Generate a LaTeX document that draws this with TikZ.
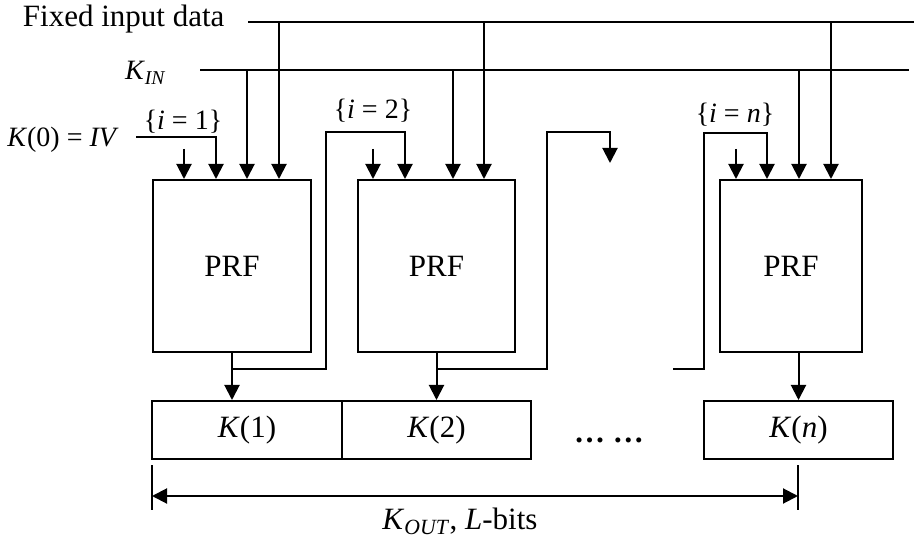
\documentclass[tikz,border=0pt]{standalone}
\usepackage{fontspec}
\setmainfont{Liberation Serif}
\usetikzlibrary{arrows.meta,calc}
\begin{document}
\begin{tikzpicture}[x=1pt,y=-1pt,line width=2pt,
  arr/.style={-{Triangle[length=15pt,width=15pt]}},
  dimarr/.style={{Triangle[length=15pt,width=15pt]}-{Triangle[length=15pt,width=15pt]}},
  prfbox/.style={draw,line width=2pt,inner sep=0pt,minimum height=172pt,font=\fontsize{31}{37}\selectfont},
  kbox/.style={draw,line width=2pt,inner sep=0pt,minimum height=58pt,minimum width=189pt,font=\fontsize{31}{37}\selectfont},
  lbl/.style={inner sep=0pt,font=\fontsize{31}{37}\selectfont},
  small/.style={inner sep=0pt,font=\fontsize{28}{34}\selectfont}]
\useasboundingbox (0,0) rectangle (914,548);

% PRF boxes
\node[prfbox,minimum width=158pt] (p1) at (232,266) {PRF};
\node[prfbox,minimum width=157pt] (p2) at (436.5,266) {PRF};
\node[prfbox,minimum width=142pt] (pn) at (791,266) {PRF};

% output key boxes
\node[kbox,minimum width=190pt] (k1) at (247,430) {\textit{K}(1)};
\node[kbox] (k2) at (436.5,430) {\textit{K}(2)};
\node[kbox] (kn) at (798.5,430) {\textit{K}(\textit{n})};
\node[lbl,anchor=base] (dots) at (609,442) {\textbf{… …}};

% labels
\node[lbl,anchor=base west] (fid) at (22,27) {Fixed input data};
\node[small,anchor=base west] (kin) at (124,80) {\textit{K}\textsubscript{\textit{IN}}};
\node[small] (iv) at (63,140) {\textit{K}(0) = \textit{IV}};
\node[small] (i1) at (183,122) {\{\textit{i} = 1\}};
\node[small] (i2) at (373,111) {\{\textit{i} = 2\}};
\node[small] (in) at (735,115) {\{\textit{i} = \textit{n}\}};
\node[lbl,anchor=base] (kout) at (460,529) {\textit{K}\textsubscript{\textit{OUT}}, \textit{L}-bits};

% bus lines
\coordinate (fL) at (248,22);
\coordinate (fR) at (914,22);
\coordinate (kL) at (200,70);
\coordinate (kR) at (909,70);
\draw (fL) -- (fR);
\draw (kL) -- (kR);

% bus taps
\coordinate (f1) at (279,22);
\coordinate (g1) at (247,70);
\coordinate (f2) at (484,22);
\coordinate (g2) at (453,70);
\coordinate (fn) at (831,22);
\coordinate (gn) at (799,70);
\draw[arr] (f1) -- (f1 |- p1.north);
\draw[arr] (g1) -- (g1 |- p1.north);
\draw[arr] (f2) -- (f2 |- p2.north);
\draw[arr] (g2) -- (g2 |- p2.north);
\draw[arr] (fn) -- (fn |- pn.north);
\draw[arr] (gn) -- (gn |- pn.north);

% short inputs
\coordinate (s1) at (184,149);
\coordinate (s2) at (373,149);
\coordinate (sn) at (736,149);
\draw[arr] (s1) -- (s1 |- p1.north);
\draw[arr] (s2) -- (s2 |- p2.north);
\draw[arr] (sn) -- (sn |- pn.north);

% K(0)=IV input
\coordinate (iv0) at (136,137);
\coordinate (iv1) at (216,137);
\draw[arr] (iv0) -- (iv1) -- (iv1 |- p1.north);

% outputs
\draw[arr] (p1.south) -- (p1.south |- k1.north);
\draw[arr] (p2.south) -- (p2.south |- k2.north);
\draw[arr] (pn.south -| kn.north) -- (kn.north);

% feedback
\coordinate (r1) at (326,369);
\coordinate (t2) at (405,132);
\draw[arr] (p1.south |- r1) -- (r1) |- (t2) -- (t2 |- p2.north);
\coordinate (r2) at (547,369);
\coordinate (t3) at (610,132);
\coordinate (e3) at (610,163);
\draw[arr] (p2.south |- r2) -- (r2) |- (t3) -- (e3);
\coordinate (q3) at (673,369);
\coordinate (r3) at (704,369);
\coordinate (tn) at (767,133);
\draw[arr] (q3) -- (r3) |- (tn) -- (tn |- pn.north);

% dimension
\coordinate (dl) at (152,496);
\coordinate (dr) at (798,496);
\draw (152,465) -- (152,510);
\draw (798,465) -- (798,510);
\draw[dimarr] (dl) -- (dr);
\end{tikzpicture}
\end{document}
